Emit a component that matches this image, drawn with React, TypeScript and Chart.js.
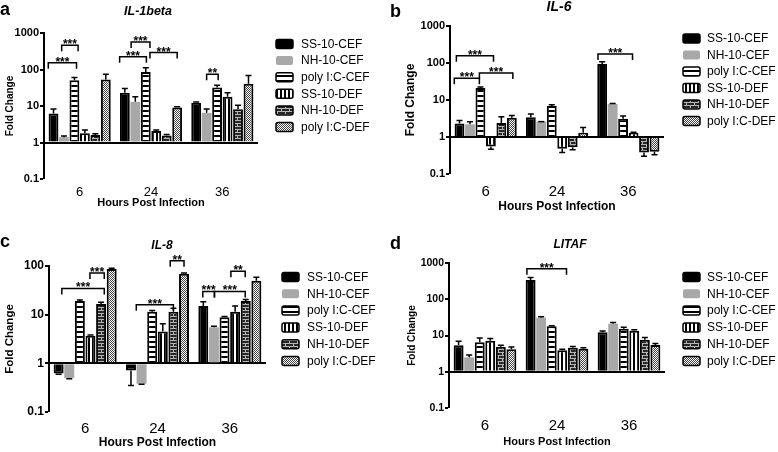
import React, { useEffect, useRef } from 'react';
import { Chart, registerables } from 'chart.js';

Chart.register(...registerables);

const FONT = "'Liberation Sans', Arial, Helvetica, sans-serif";

// ---------- data ----------
const categories = ['6', '24', '36'];
const seriesNames = ['SS-10-CEF', 'NH-10-CEF', 'poly I:C-CEF', 'SS-10-DEF', 'NH-10-DEF', 'poly I:C-DEF'];
const ticksWide = [0.1, 1, 10, 100, 1000];
const ticksIL8 = [0.1, 1, 10, 100];

const il1bMeans = [
  [6.2, 23, 12.2],
  [1.4, 13, 6.5],
  [51, 86, 32],
  [1.8, 2.05, 18],
  [1.6, 1.55, 8.2],
  [53, 9.1, 41],
];
const il1bTips = [
  [8.3, 30, 12.9],
  [1.5, 18, 8.3],
  [60, 111, 37],
  [2.2, 2.2, 23],
  [1.75, 1.65, 10.5],
  [74, 9.6, 69],
];
const il1bBrackets = [
  { cat: 0, from: 0, to: 2.7, y: 152, label: '***' },
  { cat: 0, from: 1.28, to: 2.85, y: 465, label: '***' },
  { cat: 1, from: 0, to: 2.56, y: 223, label: '***' },
  { cat: 1, from: 1.1, to: 2.9, y: 570, label: '***' },
  { cat: 1, from: 2.9, to: 5.5, y: 290, label: '***' },
  { cat: 2, from: 1.5, to: 2.6, y: 74, label: '**' },
];

const il6Means = [
  [2.3, 3.4, 94],
  [2.2, 2.6, 7.8],
  [21, 6.9, 3.1],
  [0.55, 0.48, 1.3],
  [2.4, 0.53, 0.38],
  [3.3, 1.3, 0.4],
];
const il6Tips = [
  [2.8, 4.2, 108],
  [2.6, 2.6, 8.0],
  [22.5, 7.4, 3.7],
  [0.47, 0.38, 1.35],
  [3.5, 0.45, 0.3],
  [3.8, 1.8, 0.33],
];
const il6Brackets = [
  { cat: 0, from: 0.2, to: 3.75, y: 158, label: '***' },
  { cat: 0, from: 0, to: 2.4, y: 39, label: '***' },
  { cat: 0, from: 2.4, to: 5.6, y: 54, label: '***' },
  { cat: 2, from: 0.1, to: 3.4, y: 175, label: '***' },
];

const il8Means = [
  [0.62, 0.71, 15],
  [0.5, 0.38, 5.5],
  [19, 11.5, 8.9],
  [3.7, 4.5, 11.5],
  [16.5, 11.5, 19],
  [87, 69, 50],
];
const il8Tips = [
  [0.6, 0.35, 18.5],
  [0.48, 0.37, 5.8],
  [20, 12.2, 9.2],
  [3.8, 6.5, 15],
  [18, 13.5, 20.5],
  [90, 72, 59],
];
const il8Brackets = [
  { cat: 0, from: 0.8, to: 4.8, y: 34.5, label: '***' },
  { cat: 0, from: 3.45, to: 4.8, y: 72, label: '***' },
  { cat: 1, from: 1.0, to: 4.5, y: 16, label: '***' },
  { cat: 1, from: 4.2, to: 5.5, y: 128, label: '**' },
  { cat: 2, from: 0.45, to: 1.55, y: 30, label: '***' },
  { cat: 2, from: 1.55, to: 4.45, y: 30, label: '***' },
  { cat: 2, from: 3.1, to: 4.45, y: 78, label: '**' },
];

const litafMeans = [
  [5.4, 340, 12.2],
  [2.5, 31, 21],
  [6.5, 18, 15.4],
  [7.2, 3.9, 13.5],
  [4.9, 4.6, 7.6],
  [4.2, 4.3, 5.5],
];
const litafTips = [
  [6.9, 400, 13.3],
  [2.9, 33, 23],
  [8.5, 18.5, 17],
  [8.2, 4.2, 14.5],
  [5.4, 5.0, 8.8],
  [4.8, 4.6, 6.0],
];
const litafBrackets = [
  { cat: 1, from: 0.15, to: 3.9, y: 690, label: '***' },
];

// ---------- layout per panel ----------
const W = 389;
const H = 226;

const panels = [
  {
    key: 'a', x: 0, y: 0, letter: 'a', title: 'IL-1beta',
    means: il1bMeans, tips: il1bTips, brackets: il1bBrackets, ticks: ticksWide, max: 1000,
    left: 44, right: 258, top: 33, bottom: 179,
    catFont: 13, tickFont: 11, yTitleFont: 10, xTitleFont: 11, titleFont: 12.5,
    xTickPad: 6, xTitlePad: 16, yTitlePad: 4,
    titleX: 148, titleY: 15, letterX: 0, letterY: 15,
    legBoxX: 276, legTextX: 301, legY: 44, legDy: 16.6,
  },
  {
    key: 'b', x: 389, y: 0, letter: 'b', title: 'IL-6',
    means: il6Means, tips: il6Tips, brackets: il6Brackets, ticks: ticksWide, max: 1000,
    left: 61, right: 275, top: 26, bottom: 174,
    catFont: 15, tickFont: 11, yTitleFont: 12, xTitleFont: 12, titleFont: 14,
    xTickPad: 9, xTitlePad: 12, yTitlePad: 14,
    titleX: 170, titleY: 11, letterX: 1, letterY: 16.7,
    legBoxX: 294, legTextX: 318, legY: 38.5, legDy: 16.5,
  },
  {
    key: 'c', x: 0, y: 226, letter: 'c', title: 'IL-8',
    means: il8Means, tips: il8Tips, brackets: il8Brackets, ticks: ticksIL8, max: 100,
    left: 49, right: 266, top: 40, bottom: 186,
    catFont: 15, tickFont: 12, yTitleFont: 11.5, xTitleFont: 12, titleFont: 12,
    xTickPad: 8, xTitlePad: 2.5, yTitlePad: 3,
    titleX: 162, titleY: 22.7, letterX: 0, letterY: 20.7,
    legBoxX: 282, legTextX: 307, legY: 51, legDy: 16.8,
  },
  {
    key: 'd', x: 389, y: 226, letter: 'd', title: 'LITAF',
    means: litafMeans, tips: litafTips, brackets: litafBrackets, ticks: ticksWide, max: 1000,
    left: 60, right: 276, top: 37, bottom: 182,
    catFont: 15, tickFont: 10.5, yTitleFont: 10, xTitleFont: 11, titleFont: 12,
    xTickPad: 9, xTitlePad: 3.5, yTitlePad: 17,
    titleX: 181, titleY: 21.7, letterX: 1, letterY: 23,
    legBoxX: 294, legTextX: 318, legY: 51, legDy: 16.8,
  },
];

// ---------- fills ----------
function tile(w: number, h: number, draw: (t: CanvasRenderingContext2D) => void) {
  const c = document.createElement('canvas');
  c.width = w;
  c.height = h;
  const t = c.getContext('2d') as CanvasRenderingContext2D;
  draw(t);
  return c;
}

function makeFills(ctx: CanvasRenderingContext2D): any[] {
  const hStripe = tile(4, 5, (t) => {
    t.fillStyle = '#fff'; t.fillRect(0, 0, 4, 5);
    t.fillStyle = '#000'; t.fillRect(0, 0, 4, 2);
  });
  const vStripe = tile(4, 4, (t) => {
    t.fillStyle = '#fff'; t.fillRect(0, 0, 4, 4);
    t.fillStyle = '#000'; t.fillRect(0, 0, 2, 4);
  });
  const brick = tile(8, 6, (t) => {
    t.fillStyle = '#262626'; t.fillRect(0, 0, 8, 6);
    t.fillStyle = '#b5b5b5';
    t.fillRect(0, 0, 8, 1);
    t.fillRect(0, 3, 8, 1);
    t.fillRect(1, 0, 1, 3);
    t.fillRect(5, 3, 1, 3);
  });
  const dots = tile(4, 4, (t) => {
    t.fillStyle = '#fff'; t.fillRect(0, 0, 4, 4);
    t.fillStyle = '#444';
    t.fillRect(0, 0, 1, 1); t.fillRect(2, 0, 1, 1);
    t.fillRect(1, 1, 1, 1); t.fillRect(3, 1, 1, 1);
    t.fillRect(0, 2, 1, 1); t.fillRect(2, 2, 1, 1);
    t.fillRect(1, 3, 1, 1); t.fillRect(3, 3, 1, 1);
  });
  return [
    '#000000',
    '#a8a8a8',
    ctx.createPattern(hStripe, 'repeat'),
    ctx.createPattern(vStripe, 'repeat'),
    ctx.createPattern(brick, 'repeat'),
    ctx.createPattern(dots, 'repeat'),
  ];
}

function roundRectPath(ctx: CanvasRenderingContext2D, x: number, y: number, w: number, h: number, r: number) {
  ctx.beginPath();
  ctx.moveTo(x + r, y);
  ctx.lineTo(x + w - r, y);
  ctx.quadraticCurveTo(x + w, y, x + w, y + r);
  ctx.lineTo(x + w, y + h - r);
  ctx.quadraticCurveTo(x + w, y + h, x + w - r, y + h);
  ctx.lineTo(x + r, y + h);
  ctx.quadraticCurveTo(x, y + h, x, y + h - r);
  ctx.lineTo(x, y + r);
  ctx.quadraticCurveTo(x, y, x + r, y);
  ctx.closePath();
}

function Panel({ cfg }: { cfg: any }) {
  const ref = useRef<HTMLCanvasElement | null>(null);

  useEffect(() => {
    const canvas = ref.current as HTMLCanvasElement;
    const ctx0 = canvas.getContext('2d') as CanvasRenderingContext2D;
    const fills = makeFills(ctx0);

    const datasets = seriesNames.map((name, i) => ({
      label: name,
      data: cfg.means[i],
      base: 1,
      backgroundColor: fills[i],
      borderColor: i === 1 ? '#a8a8a8' : '#000',
      borderWidth: i === 1 ? 0 : 2,
      categoryPercentage: 0.88,
      barPercentage: 0.94,
    }));

    const decor = {
      id: 'decor',
      afterDatasetsDraw(chart: any) {
        const { ctx } = chart;
        const yScale = chart.scales.y;
        ctx.save();
        ctx.strokeStyle = '#000';
        ctx.lineWidth = 1.5;
        // error bars
        cfg.tips.forEach((row: number[], i: number) => {
          const meta = chart.getDatasetMeta(i);
          row.forEach((tip: number, j: number) => {
            const el = meta.data[j];
            if (!el) return;
            const x = el.x;
            const y0 = el.y;
            const y1 = yScale.getPixelForValue(tip);
            ctx.beginPath();
            ctx.moveTo(x, y0);
            ctx.lineTo(x, y1);
            ctx.moveTo(x - 3, y1);
            ctx.lineTo(x + 3, y1);
            ctx.stroke();
          });
        });
        // significance brackets
        const m0 = chart.getDatasetMeta(0);
        const m1 = chart.getDatasetMeta(1);
        const slot = m1.data[0].x - m0.data[0].x;
        ctx.font = `bold 12px ${FONT}`;
        ctx.fillStyle = '#000';
        ctx.textAlign = 'center';
        ctx.textBaseline = 'alphabetic';
        cfg.brackets.forEach((b: any) => {
          const gl = m0.data[b.cat].x - slot / 2;
          const xa = gl + b.from * slot;
          const xb = gl + b.to * slot;
          const yy = yScale.getPixelForValue(b.y);
          ctx.beginPath();
          ctx.moveTo(xa, yy + 6);
          ctx.lineTo(xa, yy);
          ctx.lineTo(xb, yy);
          ctx.lineTo(xb, yy + 6);
          ctx.stroke();
          ctx.fillText(b.label, (xa + xb) / 2, yy + 3);
        });
        ctx.restore();
      },
      afterDraw(chart: any) {
        const { ctx } = chart;
        ctx.save();
        ctx.fillStyle = '#000';
        ctx.textBaseline = 'alphabetic';
        ctx.textAlign = 'left';
        ctx.font = `bold 18px ${FONT}`;
        ctx.fillText(cfg.letter, cfg.letterX, cfg.letterY);
        ctx.textAlign = 'center';
        ctx.font = `italic bold ${cfg.titleFont}px ${FONT}`;
        ctx.fillText(cfg.title, cfg.titleX, cfg.titleY);
        // legend
        ctx.textAlign = 'left';
        ctx.textBaseline = 'middle';
        seriesNames.forEach((n, i) => {
          const cy = cfg.legY + i * cfg.legDy;
          roundRectPath(ctx, cfg.legBoxX, cy - 4.5, 17, 9, 2);
          ctx.fillStyle = fills[i];
          ctx.fill();
          if (i !== 1) {
            ctx.lineWidth = 1.5;
            ctx.strokeStyle = '#000';
            ctx.stroke();
          }
          ctx.fillStyle = '#000';
          ctx.font = `12px ${FONT}`;
          ctx.fillText(n, cfg.legTextX, cy + 0.5);
        });
        ctx.restore();
      },
    };

    const chart = new Chart(canvas, {
      type: 'bar',
      data: { labels: categories, datasets: datasets as any },
      options: {
        animation: false,
        responsive: false,
        devicePixelRatio: 1,
        events: [],
        layout: { padding: { left: 0, top: cfg.top, right: W - cfg.right, bottom: 0 } },
        plugins: {
          legend: { display: false },
          title: { display: false },
          tooltip: { enabled: false },
        },
        scales: {
          x: {
            type: 'category',
            offset: true,
            grid: { display: false, drawTicks: false },
            border: { display: false },
            ticks: {
              font: { family: FONT, size: cfg.catFont },
              color: '#000',
              padding: cfg.xTickPad,
              maxRotation: 0,
            },
            title: {
              display: true,
              text: 'Hours Post Infection',
              font: { family: FONT, size: cfg.xTitleFont, weight: 'bold' },
              color: '#000',
              padding: { top: 0, bottom: cfg.xTitlePad },
            },
            afterFit: (s: any) => { s.height = H - cfg.bottom; },
          },
          y: {
            type: 'logarithmic',
            min: 0.1,
            max: cfg.max,
            z: 1,
            afterBuildTicks: (s: any) => { s.ticks = cfg.ticks.map((v: number) => ({ value: v })); },
            ticks: {
              callback: (v: any) => String(v),
              font: { family: FONT, size: cfg.tickFont, weight: 'bold' },
              color: '#000',
              padding: 1,
              autoSkip: false,
            },
            grid: {
              color: (c: any) => (c.tick && c.tick.value === 1 ? '#000' : 'rgba(0,0,0,0)'),
              lineWidth: (c: any) => (c.tick && c.tick.value === 1 ? 2 : 0),
              tickColor: '#000',
              tickLength: 4,
              tickWidth: 2,
              drawTicks: true,
            },
            border: { display: true, color: '#000', width: 2 },
            title: {
              display: true,
              text: 'Fold Change',
              font: { family: FONT, size: cfg.yTitleFont, weight: 'bold' },
              color: '#000',
              padding: { top: cfg.yTitlePad, bottom: 0 },
            },
            afterFit: (s: any) => { s.width = cfg.left; },
          },
        },
      } as any,
      plugins: [decor],
    });

    return () => chart.destroy();
  }, [cfg]);

  return (
    <canvas
      ref={ref}
      width={W}
      height={H}
      style={{ position: 'absolute', left: cfg.x, top: cfg.y, width: W, height: H }}
    />
  );
}

export default function App() {
  return (
    <div style={{ position: 'fixed', left: 0, top: 0, width: 778, height: 452, background: '#fff', overflow: 'hidden' }}>
      {panels.map((p) => (
        <Panel key={p.key} cfg={p} />
      ))}
    </div>
  );
}
